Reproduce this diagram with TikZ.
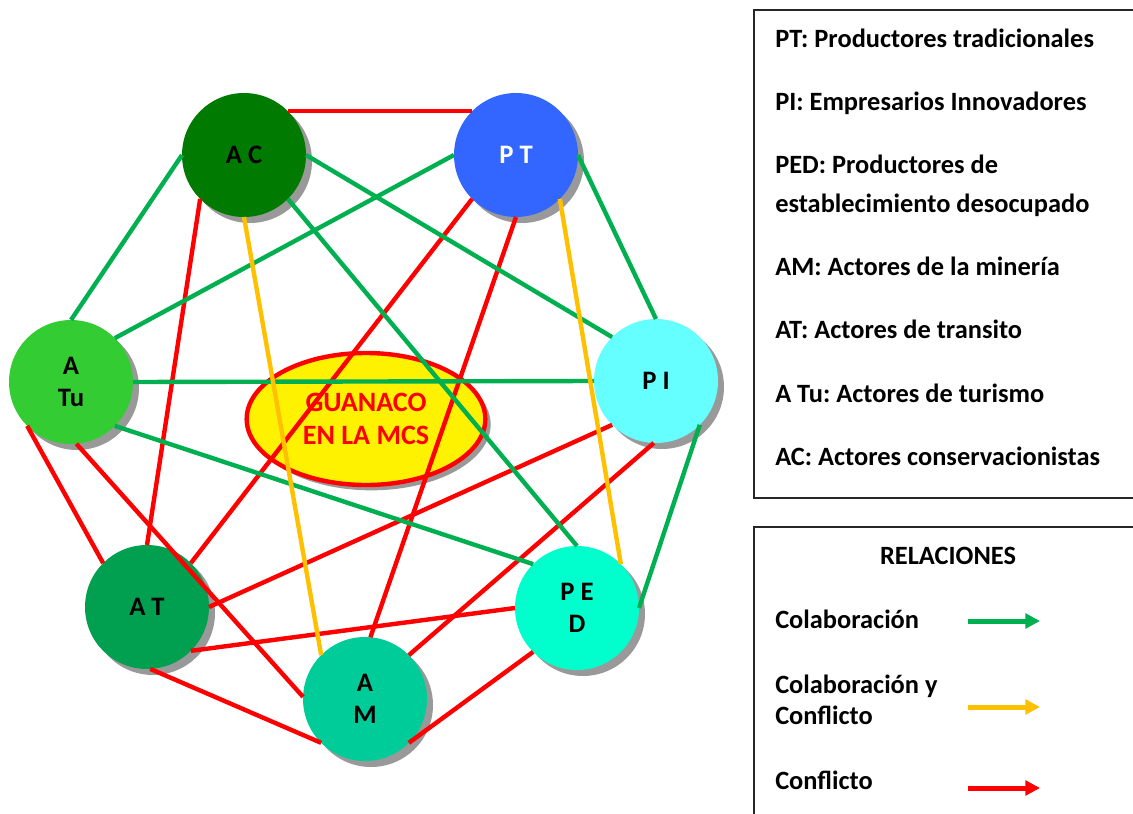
\documentclass[tikz,border=0pt]{standalone}
\usepackage{fontspec}
\setmainfont{Carlito}
\usetikzlibrary{shapes.geometric}
\usetikzlibrary{shadows}
\usetikzlibrary{arrows.meta}
\definecolor{cgreen}{RGB}{0,176,80}
\definecolor{cyellow}{RGB}{255,192,0}
\definecolor{cred}{RGB}{255,0,0}
\definecolor{acgreen}{RGB}{0,122,0}
\definecolor{ptblue}{RGB}{51,102,255}
\definecolor{atugreen}{RGB}{51,204,51}
\definecolor{picyan}{RGB}{102,255,255}
\definecolor{atgreen}{RGB}{0,160,80}
\definecolor{pedaqua}{RGB}{0,255,204}
\definecolor{amgreen}{RGB}{0,204,153}
\tikzstyle{actor}=[circle, inner sep=0pt, outer sep=0pt, minimum size=93pt, align=center,
  font=\fontsize{20}{24.5}\selectfont\bfseries,
  drop shadow={shadow xshift=4.5pt, shadow yshift=-4.5pt, fill=black!40, opacity=1}]
\tikzstyle{colab}=[cgreen, line width=3.3pt]
\tikzstyle{mixto}=[cyellow, line width=3.3pt]
\tikzstyle{confl}=[cred, line width=3.3pt]
\tikzstyle{legtext}=[anchor=base west, inner sep=0pt, font=\fontsize{19.8}{24}\selectfont\bfseries\frenchspacing]
\tikzstyle{legarrow}=[line width=3.75pt, -{Triangle[length=11pt,width=11pt]}]

\begin{document}
\begin{tikzpicture}[x=0.75pt, y=-0.75pt]
    \useasboundingbox (0,0) rectangle (1133,814);
    \clip (0,0) rectangle (1133,814);
    \node[ellipse, draw=cred, line width=3.3pt, fill=yellow, minimum width=179pt, minimum height=99pt,
      inner sep=0pt, align=center, text=cred, font=\fontsize{21}{25}\selectfont\bfseries,
      drop shadow={shadow xshift=4pt, shadow yshift=-4pt, fill=black!40, opacity=1}] (mcs) at (366,419) {GUANACO\\EN LA MCS};
    \node[actor, fill=acgreen] (AC) at (244,155) {A C};
    \node[actor, fill=ptblue, text=white] (PT) at (516,155) {P T};
    \node[actor, fill=atugreen] (ATu) at (71,382) {A\\Tu};
    \node[actor, fill=picyan] (PI) at (656,381) {P I};
    \node[actor, fill=atgreen] (AT) at (147,607) {A T};
    \node[actor, fill=pedaqua] (PED) at (577,608) {P E\\D};
    \node[actor, fill=amgreen] (AM) at (365,699) {A\\M};
    \draw[confl] (AC.north east) -- (PT.north west);
    \draw[confl] (AC.south west) -- (AT.north);
    \draw[confl] (AT.north east) -- (PT.south west);
    \draw[confl] (AM.85) -- (PT.south);
    \draw[confl] (ATu.south west) -- (AT.north west);
    \draw[confl] (ATu.275) -- (AM.178);
    \draw[confl] (AT.east) -- (PI.south west);
    \draw[confl] (AT.south east) -- (PED.west);
    \draw[confl] (AT.273) -- (AM.south west);
    \draw[confl] (AM.north east) -- (PI.268);
    \draw[confl] (AM.south east) -- (PED.south west);
    \draw[colab] (AC.west) -- (ATu.north);
    \draw[colab] (AC.east) -- (PI.north west);
    \draw[colab] (AC.south east) -- (PED.north);
    \draw[colab] (PT.west) -- (ATu.north east);
    \draw[colab] (PT.east) -- (PI.north);
    \draw[colab] (ATu.east) -- (PI.west);
    \draw[colab] (ATu.south east) -- (PED.north west);
    \draw[colab] (PI.south east) -- (PED.east);
    \draw[mixto] (AC.south) -- (AM.north west);
    \draw[mixto] (PT.south east) -- (PED.north east);
    \draw[line width=1.3pt, black!85] (754,10) rectangle (1140,498);
    \node[legtext] (kPT) at (775,47) {PT: Productores tradicionales};
    \node[legtext] (kPI) at (775,110) {PI: Empresarios Innovadores};
    \node[legtext] (kPED) at (775,173) {PED: Productores de};
    \node[legtext] (kPEDb) at (775,212) {establecimiento desocupado};
    \node[legtext] (kAM) at (775,275) {AM: Actores de la minería};
    \node[legtext] (kAT) at (775,338) {AT: Actores de transito};
    \node[legtext] (kATu) at (775,402) {A Tu: Actores de turismo};
    \node[legtext] (kAC) at (775,465) {AC: Actores conservacionistas};
    \draw[line width=1.3pt, black!85] (754,527) rectangle (1140,830);
    \node[legtext, anchor=base] (rel) at (948,564) {RELACIONES};
    \node[legtext] (lcolab) at (775,628) {Colaboración};
    \node[legtext] (lmixto) at (775,693) {Colaboración y};
    \node[legtext] (lmixtob) at (775,724) {Conflicto};
    \node[legtext] (lconfl) at (775,789) {Conflicto};
    \coordinate (colab-a) at (968,621);
    \coordinate (colab-b) at (1040,621);
    \coordinate (mixto-a) at (968,707);
    \coordinate (mixto-b) at (1040,707);
    \coordinate (confl-a) at (968,788);
    \coordinate (confl-b) at (1040,788);
    \draw[legarrow, cgreen] (colab-a) -- (colab-b);
    \draw[legarrow, cyellow] (mixto-a) -- (mixto-b);
    \draw[legarrow, cred] (confl-a) -- (confl-b);
\end{tikzpicture}
\end{document}
